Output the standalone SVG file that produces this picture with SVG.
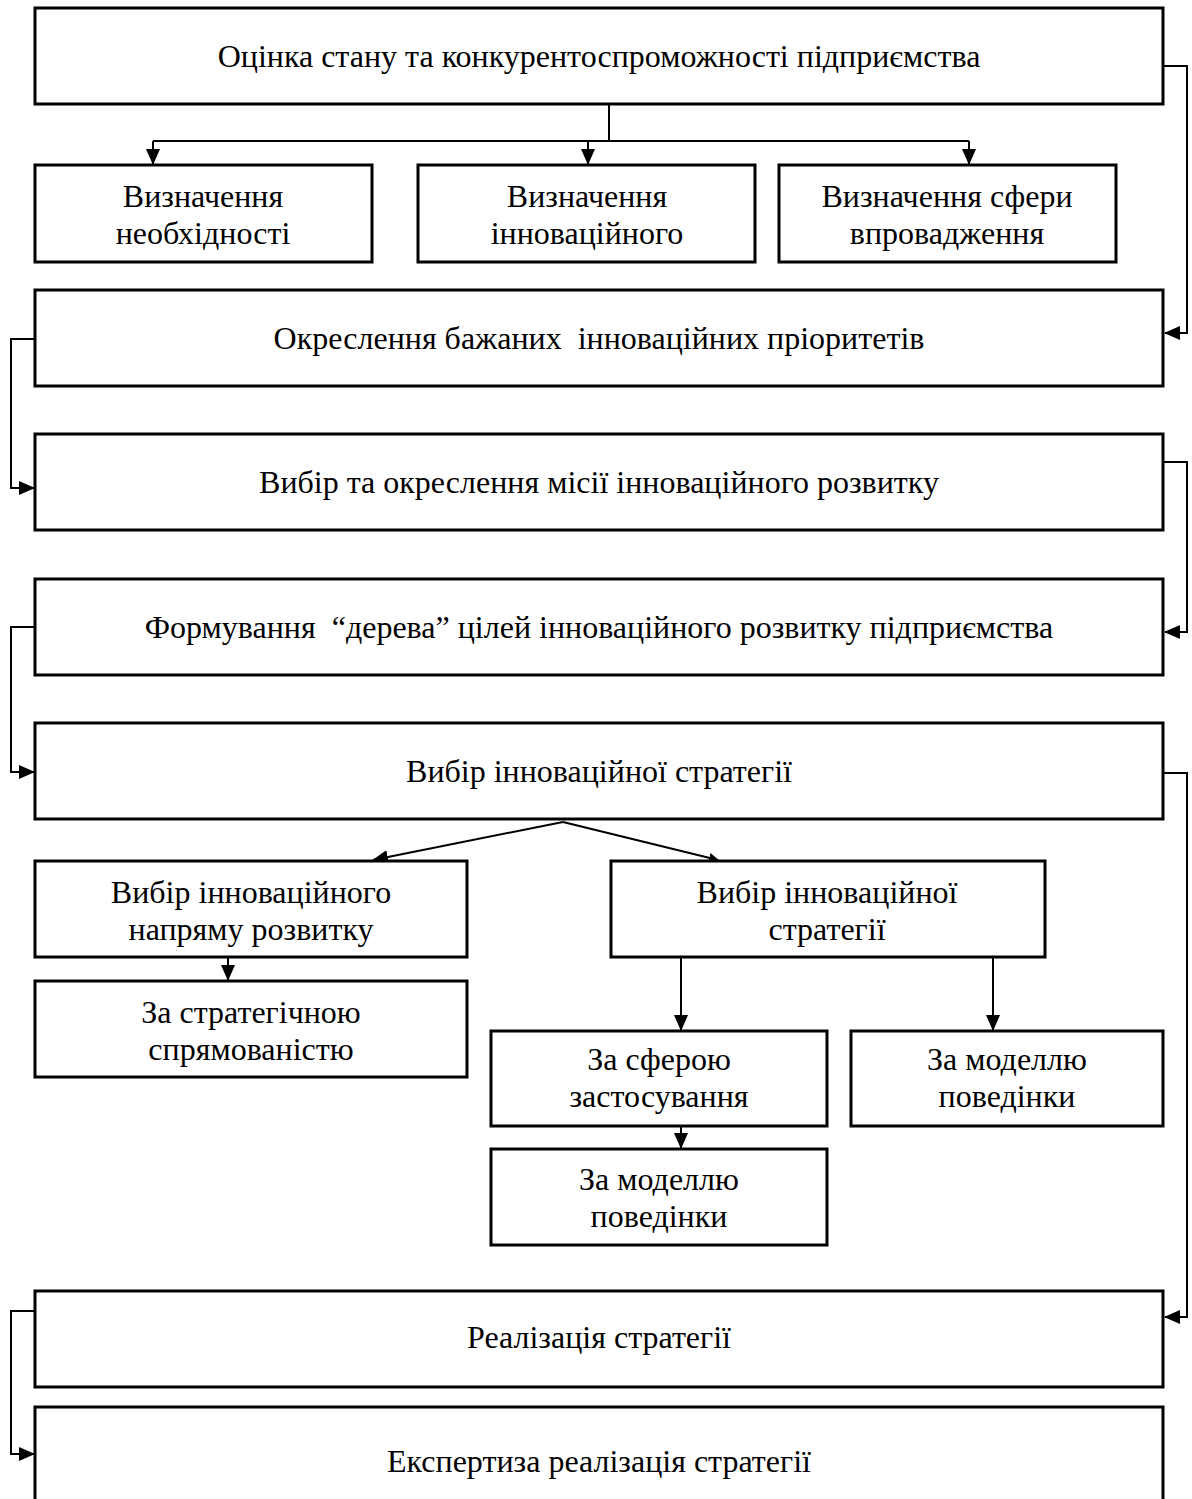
<svg xmlns="http://www.w3.org/2000/svg" width="1192" height="1499" viewBox="0 0 1192 1499">
<style>
.box{fill:#fff;stroke:#000;stroke-width:3}
.t{font-family:"Liberation Serif","Times New Roman",serif;font-size:32px;fill:#000;text-anchor:middle;white-space:pre}
.c{fill:none;stroke:#000;stroke-width:2}
</style>
<defs>
<marker id="ah" markerWidth="10" markerHeight="10" refX="9" refY="5" orient="auto" markerUnits="userSpaceOnUse" viewBox="0 0 10 10">
<path d="M0,0 L10,5 L0,10 z" fill="#000"/>
</marker>
<marker id="ahL" markerWidth="16" markerHeight="14" refX="15" refY="7" orient="auto" markerUnits="userSpaceOnUse" viewBox="0 0 16 14">
<path d="M0,0 L16,7 L0,14 z" fill="#000"/>
</marker>
</defs>
<g id="connectors">
<path class="c" d="M609,104 V141 M153,141 H969"/>
<path class="c" d="M153,141 V164" marker-end="url(#ahL)"/>
<path class="c" d="M588,141 V164" marker-end="url(#ahL)"/>
<path class="c" d="M969,141 V164" marker-end="url(#ahL)"/>
<path class="c" d="M1163,66 H1187 V333 H1165" marker-end="url(#ahL)"/>
<path class="c" d="M35,339 H11 V488 H34" marker-end="url(#ahL)"/>
<path class="c" d="M1163,462 H1187 V632 H1165" marker-end="url(#ahL)"/>
<path class="c" d="M35,627 H11 V772 H34" marker-end="url(#ahL)"/>
<path class="c" d="M1163,773 H1187 V1317 H1165" marker-end="url(#ahL)"/>
<path class="c" d="M35,1311 H11 V1454 H34" marker-end="url(#ahL)"/>
<path class="c" d="M563,822 L373,860" marker-end="url(#ahL)"/>
<path class="c" d="M563,822 L718,860" marker-end="url(#ah)"/>
<path class="c" d="M228,957 V980" marker-end="url(#ahL)"/>
<path class="c" d="M681,957 V1030" marker-end="url(#ahL)"/>
<path class="c" d="M993,957 V1030" marker-end="url(#ahL)"/>
<path class="c" d="M681,1126 V1148" marker-end="url(#ahL)"/>
</g>
<g id="n1"><rect class="box" x="35" y="8" width="1128" height="96"/><text class="t" x="599" y="67">Оцінка стану та конкурентоспроможності підприємства</text></g>
<g id="n2"><rect class="box" x="35" y="165" width="337" height="97"/><text class="t" x="203" y="207">Визначення</text><text class="t" x="203" y="244">необхідності</text></g>
<g id="n3"><rect class="box" x="418" y="165" width="337" height="97"/><text class="t" x="587" y="207">Визначення</text><text class="t" x="587" y="244">інноваційного</text></g>
<g id="n4"><rect class="box" x="779" y="165" width="337" height="97"/><text class="t" x="947" y="207">Визначення сфери</text><text class="t" x="947" y="244">впровадження</text></g>
<g id="n5"><rect class="box" x="35" y="290" width="1128" height="96"/><text class="t" x="599" y="349">Окреслення бажаних  інноваційних пріоритетів</text></g>
<g id="n6"><rect class="box" x="35" y="434" width="1128" height="96"/><text class="t" x="599" y="493">Вибір та окреслення місії інноваційного розвитку</text></g>
<g id="n7"><rect class="box" x="35" y="579" width="1128" height="96"/><text class="t" x="599" y="638">Формування  “дерева” цілей інноваційного розвитку підприємства</text></g>
<g id="n8"><rect class="box" x="35" y="723" width="1128" height="96"/><text class="t" x="599" y="782">Вибір інноваційної стратегії</text></g>
<g id="n9"><rect class="box" x="35" y="861" width="432" height="96"/><text class="t" x="251" y="903">Вибір інноваційного</text><text class="t" x="251" y="940">напряму розвитку</text></g>
<g id="n10"><rect class="box" x="611" y="861" width="434" height="96"/><text class="t" x="827" y="903">Вибір інноваційної</text><text class="t" x="827" y="940">стратегії</text></g>
<g id="n11"><rect class="box" x="35" y="981" width="432" height="96"/><text class="t" x="251" y="1023">За стратегічною</text><text class="t" x="251" y="1060">спрямованістю</text></g>
<g id="n12"><rect class="box" x="491" y="1031" width="336" height="95"/><text class="t" x="659" y="1070">За сферою</text><text class="t" x="659" y="1107">застосування</text></g>
<g id="n13"><rect class="box" x="851" y="1031" width="312" height="95"/><text class="t" x="1007" y="1070">За моделлю</text><text class="t" x="1007" y="1107">поведінки</text></g>
<g id="n14"><rect class="box" x="491" y="1149" width="336" height="96"/><text class="t" x="659" y="1190">За моделлю</text><text class="t" x="659" y="1227">поведінки</text></g>
<g id="n15"><rect class="box" x="35" y="1291" width="1128" height="96"/><text class="t" x="599" y="1348">Реалізація стратегії</text></g>
<g id="n16"><rect class="box" x="35" y="1407" width="1128" height="102"/><text class="t" x="599" y="1472">Експертиза реалізація стратегії</text></g>
</svg>
